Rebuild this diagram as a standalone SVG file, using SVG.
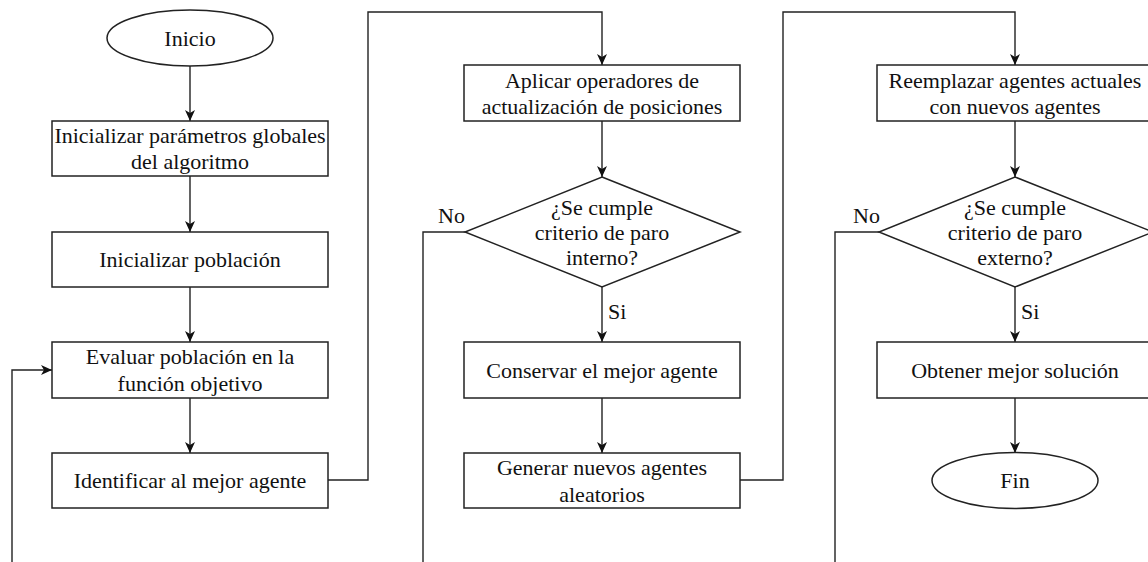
<svg xmlns="http://www.w3.org/2000/svg" width="1148" height="562" viewBox="0 0 1148 562">
<style>
.box{fill:#fff;stroke:#222;stroke-width:1.5}
.ln{fill:none;stroke:#222;stroke-width:1.4}
text{font-family:'Liberation Serif','Times New Roman',Times,serif;font-size:22px;fill:#111}
.t{text-anchor:middle}
</style>
<defs>
<marker id="ah" markerUnits="userSpaceOnUse" markerWidth="11" markerHeight="10" refX="11" refY="5" orient="auto">
<path d="M0,0 L11,5 L0,10 L3,5 z" fill="#111"/>
</marker>
</defs>
<rect width="1148" height="562" fill="#fff"/>
<g id="connectors">
<path class="ln" d="M190,66 V121" marker-end="url(#ah)"/>
<path class="ln" d="M190,176 V232" marker-end="url(#ah)"/>
<path class="ln" d="M190,287 V342" marker-end="url(#ah)"/>
<path class="ln" d="M190,398 V453" marker-end="url(#ah)"/>
<path class="ln" d="M12,562 V370 H52" marker-end="url(#ah)"/>
<path class="ln" d="M328,480 H368 V12 H602 V65" marker-end="url(#ah)"/>
<path class="ln" d="M602,121 V177" marker-end="url(#ah)"/>
<path class="ln" d="M602,287 V342" marker-end="url(#ah)"/>
<path class="ln" d="M602,398 V453" marker-end="url(#ah)"/>
<path class="ln" d="M465,232 H423 V562"/>
<path class="ln" d="M740,480 H783 V12 H1015 V65" marker-end="url(#ah)"/>
<path class="ln" d="M1015,121 V177" marker-end="url(#ah)"/>
<path class="ln" d="M1015,287 V342" marker-end="url(#ah)"/>
<path class="ln" d="M1015,398 V453" marker-end="url(#ah)"/>
<path class="ln" d="M879,232 H835 V562"/>
<text x="465" y="223" text-anchor="end">No</text>
<text x="608" y="319">Si</text>
<text x="880" y="223" text-anchor="end">No</text>
<text x="1021" y="319">Si</text>
</g>
<g id="inicio">
<ellipse class="box" cx="190" cy="38" rx="83" ry="28"/>
<text class="t" x="190" y="46">Inicio</text>
</g>
<g id="init-params">
<rect class="box" x="52" y="121" width="276" height="55"/>
<text class="t" x="190" y="143">Inicializar parámetros globales</text>
<text class="t" x="190" y="169">del algoritmo</text>
</g>
<g id="init-pob">
<rect class="box" x="52" y="232" width="276" height="55"/>
<text class="t" x="190" y="267">Inicializar población</text>
</g>
<g id="evaluar">
<rect class="box" x="52" y="342" width="276" height="56"/>
<text class="t" x="190" y="364">Evaluar población en la</text>
<text class="t" x="190" y="391">función objetivo</text>
</g>
<g id="identificar">
<rect class="box" x="52" y="453" width="276" height="55"/>
<text class="t" x="190" y="488">Identificar al mejor agente</text>
</g>
<g id="aplicar">
<rect class="box" x="464" y="65" width="276" height="56"/>
<text class="t" x="602" y="88">Aplicar operadores de</text>
<text class="t" x="602" y="114">actualización de posiciones</text>
</g>
<g id="dec-interno">
<polygon class="box" points="602,177 740,232 602,287 465,232"/>
<text class="t" x="602" y="215">¿Se cumple</text>
<text class="t" x="602" y="240">criterio de paro</text>
<text class="t" x="602" y="265">interno?</text>
</g>
<g id="conservar">
<rect class="box" x="464" y="342" width="276" height="56"/>
<text class="t" x="602" y="377.5">Conservar el mejor agente</text>
</g>
<g id="generar">
<rect class="box" x="464" y="453" width="276" height="55"/>
<text class="t" x="602" y="475">Generar nuevos agentes</text>
<text class="t" x="602" y="502">aleatorios</text>
</g>
<g id="reemplazar">
<rect class="box" x="877" y="65" width="276" height="56"/>
<text class="t" x="1015" y="88">Reemplazar agentes actuales</text>
<text class="t" x="1015" y="114">con nuevos agentes</text>
</g>
<g id="dec-externo">
<polygon class="box" points="1015,177 1153,232 1015,287 879,232"/>
<text class="t" x="1015" y="215">¿Se cumple</text>
<text class="t" x="1015" y="240">criterio de paro</text>
<text class="t" x="1015" y="265">externo?</text>
</g>
<g id="obtener">
<rect class="box" x="877" y="342" width="276" height="56"/>
<text class="t" x="1015" y="377.5">Obtener mejor solución</text>
</g>
<g id="fin">
<ellipse class="box" cx="1015" cy="480.5" rx="83" ry="28"/>
<text class="t" x="1015" y="488">Fin</text>
</g>
</svg>
